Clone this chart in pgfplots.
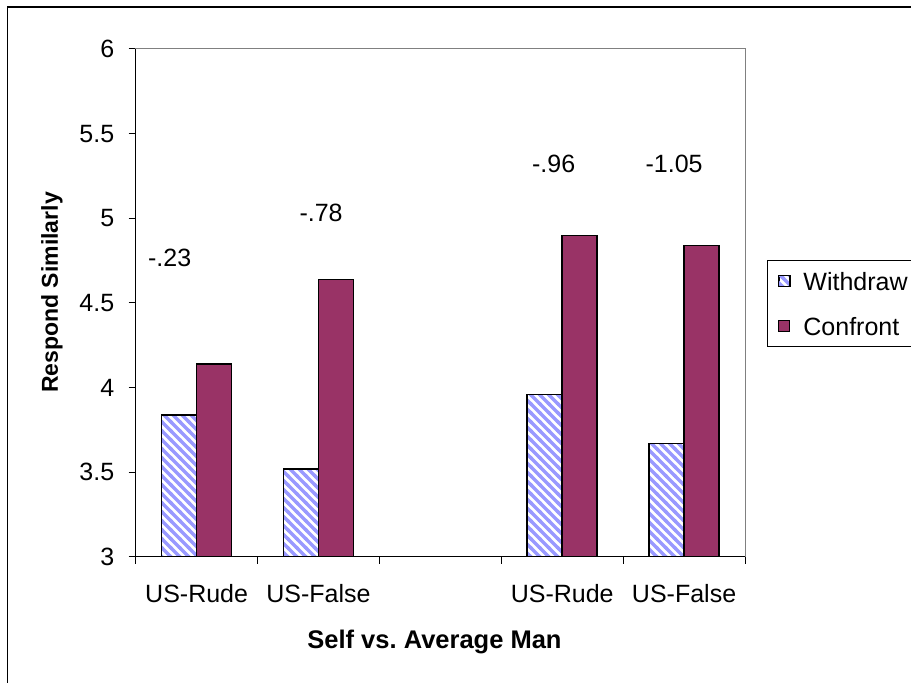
\documentclass[border=0pt]{standalone}
\usepackage{pgfplots}
\pgfplotsset{compat=1.18}
\usepackage{fontspec}
\setmainfont{Liberation Sans}
\usetikzlibrary{patterns}
\definecolor{plum}{HTML}{993366}
\definecolor{hatch}{HTML}{9999FF}

% wide diagonal stripes running from upper left to lower right
\pgfdeclarepatternformonly{wstripes}{\pgfqpoint{-1pt}{-1pt}}{\pgfqpoint{10pt}{10pt}}{\pgfqpoint{9pt}{9pt}}{%
  \pgfsetlinewidth{3.2pt}%
  \pgfpathmoveto{\pgfqpoint{-1pt}{10pt}}\pgfpathlineto{\pgfqpoint{10pt}{-1pt}}%
  \pgfpathmoveto{\pgfqpoint{-1pt}{1pt}}\pgfpathlineto{\pgfqpoint{1pt}{-1pt}}%
  \pgfpathmoveto{\pgfqpoint{8pt}{10pt}}\pgfpathlineto{\pgfqpoint{10pt}{8pt}}%
  \pgfusepath{stroke}}

\newcommand{\lblfont}{\fontsize{25pt}{30pt}\selectfont}

\begin{document}
\begin{tikzpicture}[x=1pt,y=1pt]
% chart frame
\draw[line width=1.3pt] (7.5,-20) rectangle (940,676);

\begin{axis}[
  scale only axis, width=609.3pt, height=508pt,
  at={(135.7pt,126pt)}, anchor=south west,
  xmin=-0.5, xmax=4.5, ymin=3, ymax=6,
  ytick={3,3.5,4,4.5,5,5.5,6},
  xtick={-0.5,0.5,1.5,2.5,3.5,4.5}, xticklabels={},
  extra x ticks={0,1,3,4},
  extra x tick labels={US-Rude,US-False,US-Rude,US-False},
  extra x tick style={tick style={draw=none}},
  tick pos=left, tick align=outside, major tick length=7pt,
  tick style={black, line width=1pt},
  axis line style={draw=gray, line width=1pt},
  clip mode=individual,
  /pgf/number format/assume math mode=true,
  tick label style={font=\lblfont},
  yticklabel style={anchor=east, xshift=-11pt},
  xticklabel style={anchor=north, yshift=-17pt},
  xlabel={Self vs.\ Average Man},
  ylabel={Respond Similarly},
  every axis x label/.style={at={(axis description cs:0.4904,-0.1673)}, anchor=center,
    font=\bfseries\fontsize{25.5pt}{30pt}\selectfont},
  every axis y label/.style={at={(axis description cs:-0.1374,0.5207)}, rotate=90, anchor=center,
    font=\bfseries\fontsize{23pt}{28pt}\selectfont},
  legend cell align=left,
  legend image code/.code={\draw[#1,line width=1pt] (0pt,-5.5pt) rectangle (11pt,5.5pt);},
  legend style={at={(axis description cs:1.036,0.5846)}, anchor=north west,
    draw=black, line width=1pt, fill=white, inner xsep=11pt, inner ysep=11.5pt,
    row sep=27pt,
    nodes={inner sep=0pt, text height=18pt, text depth=0pt, font=\lblfont},
    /tikz/every odd column/.append style={column sep=13pt}},
]
\addplot[ybar, bar width=35pt, bar shift=-17.5pt, draw=black, line width=1.5pt,
  preaction={fill=white}, pattern=wstripes, pattern color=hatch]
  coordinates {(0,3.84) (1,3.52) (3,3.96) (4,3.67)};
\addlegendentry{Withdraw}
\addplot[ybar, bar width=35pt, bar shift=17.5pt, draw=black, line width=1.5pt, fill=plum]
  coordinates {(0,4.14) (1,4.64) (3,4.90) (4,4.84)};
\addlegendentry{Confront}

% left and bottom axis lines in black
\draw[black, line width=1pt] (rel axis cs:0,1) -- (rel axis cs:0,0) -- (rel axis cs:1,0);

% difference labels
\node[font=\lblfont] at (axis cs:-0.221,4.765) {-.23};
\node[font=\lblfont] at (axis cs:1.021,5.035) {-.78};
\node[font=\lblfont] at (axis cs:2.930,5.32) {-.96};
\node[font=\lblfont] at (axis cs:3.918,5.32) {-1.05};
\end{axis}

\pgfresetboundingbox
\path[use as bounding box] (0,0) rectangle (911,683);
\end{tikzpicture}
\end{document}
